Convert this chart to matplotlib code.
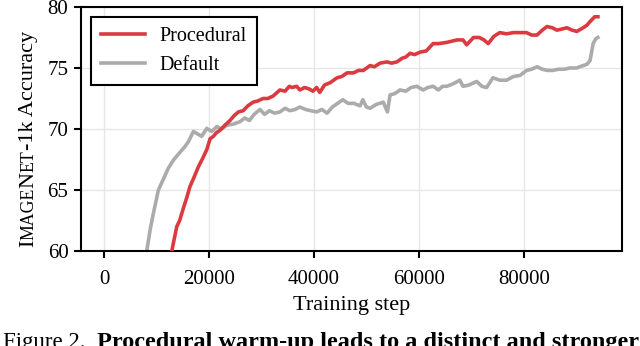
import matplotlib
matplotlib.use("Agg")
import matplotlib.pyplot as plt
from matplotlib.transforms import IdentityTransform

# Default run (grey)
default_steps = [7800, 8130, 8800, 9400, 10350, 11200, 12250, 13300, 14480, 15300,
                 16060, 17020, 17800, 18610, 19560, 20510, 21500, 22400, 23370, 24600,
                 25900, 26800, 27700, 28600, 29700, 30600, 31500, 32500, 33500, 34500,
                 35400, 36400, 37300, 38400, 39400, 40500, 41500, 42500, 43500, 44500,
                 45500, 46500, 47600, 48800, 49300, 50000, 50700, 51800, 53200, 54000,
                 54500, 55400, 56400, 57500, 58500, 59600, 60800, 61700, 62700, 63700,
                 64500, 65300, 66500, 67800, 68400, 69500, 71000, 72000, 72900, 74100,
                 75400, 76700, 78000, 79300, 80500, 81500, 82500, 83500, 84500, 85500,
                 86600, 87700, 88800, 90000, 91300, 92000, 92600, 93200, 93700, 94100]
default_acc = [58.0, 60.0, 61.8, 63.1, 65.0, 65.8, 66.8, 67.5, 68.1, 68.5,
               68.95, 69.8, 69.6, 69.4, 70.05, 69.8, 70.2, 70.0, 70.3, 70.4,
               70.6, 70.9, 70.7, 71.2, 71.6, 71.2, 71.5, 71.3, 71.4, 71.7,
               71.5, 71.6, 71.8, 71.6, 71.5, 71.4, 71.6, 71.3, 71.8, 72.1,
               72.4, 72.1, 72.1, 71.9, 72.4, 71.8, 71.7, 72.0, 72.2, 71.4,
               72.8, 72.9, 73.2, 73.1, 73.4, 73.5, 73.2, 73.4, 73.5, 73.2,
               73.5, 73.5, 73.7, 74.0, 73.5, 73.6, 73.9, 73.5, 73.4, 74.2,
               74.0, 74.0, 74.3, 74.4, 74.8, 74.9, 75.1, 74.9, 74.8, 74.8,
               74.9, 74.9, 75.0, 75.0, 75.2, 75.3, 75.6, 77.0, 77.4, 77.5]

# Procedural warm-up run (red)
proc_steps = [12500, 12900, 13850, 14400, 15100, 15700, 16380, 17100, 17970, 18800,
              19560, 20200, 20830, 21400, 22100, 23000, 24000, 24800, 25600, 26500,
              27400, 28400, 29300, 30300, 31200, 32200, 33000, 33500, 34500, 35300,
              35800, 36700, 37300, 38200, 39000, 39800, 40500, 41100, 42000, 43100,
              44400, 45300, 46300, 47500, 48500, 49400, 50700, 51500, 52600, 53900,
              54800, 55800, 56800, 57500, 58300, 59200, 60200, 61400, 62700, 63800,
              65300, 66300, 67200, 68400, 69100, 70400, 71500, 72400, 73200, 74300,
              75400, 76700, 78000, 79200, 80500, 81500, 82500, 83500, 84400, 85400,
              86300, 87300, 88200, 89200, 90100, 91300, 92000, 92600, 93500, 94100]
proc_acc = [58.0, 60.0, 62.0, 62.5, 63.5, 64.3, 65.3, 66.0, 66.9, 67.6,
            68.3, 69.2, 69.4, 69.7, 69.9, 70.3, 70.7, 71.1, 71.4, 71.5,
            71.9, 72.2, 72.3, 72.5, 72.5, 72.7, 73.0, 73.2, 73.1, 73.5,
            73.4, 73.5, 73.2, 73.4, 73.3, 73.1, 73.4, 73.0, 73.6, 73.8,
            74.2, 74.3, 74.6, 74.6, 74.8, 74.8, 75.2, 75.1, 75.4, 75.5,
            75.4, 75.5, 75.8, 75.9, 76.2, 76.1, 76.3, 76.4, 77.0, 77.0,
            77.1, 77.2, 77.3, 77.3, 76.9, 77.5, 77.5, 77.3, 77.0, 77.6,
            77.9, 77.8, 77.9, 77.9, 77.9, 77.7, 77.7, 78.1, 78.4, 78.3,
            78.1, 78.2, 78.3, 78.1, 78.0, 78.3, 78.5, 78.8, 79.2, 79.2]

x_ticks = [0, 20000, 40000, 60000, 80000]
y_ticks = [60, 65, 70, 75, 80]

plt.rcParams['font.family'] = ['Liberation Serif', 'DejaVu Serif']
TICK_FS = 15
LABEL_FS = 16

fig = plt.figure(figsize=(6.4, 3.46), dpi=100)
ax = fig.add_axes([81/640, 1 - 251/346, (622 - 81)/640, (251 - 7)/346])

ax.plot(proc_steps, proc_acc, color='#db3a40', lw=2.6, label='Procedural', zorder=3)
ax.plot(default_steps, default_acc, color='#ababab', lw=2.6, label='Default', zorder=2)

ax.set_xlim(-4400, 98700)
ax.set_ylim(60, 80)
ax.set_xticks(x_ticks)
ax.set_yticks(y_ticks)
ax.grid(True, color='#e6e6e6', lw=1)
ax.set_axisbelow(True)
for s in ax.spines.values():
    s.set_linewidth(1.5)
    s.set_color('black')
ax.tick_params(labelsize=TICK_FS, length=5, width=1.5, colors='black', pad=4)
ax.tick_params(axis='x', pad=9)
ax.set_xlabel('Training step', fontsize=LABEL_FS, labelpad=5)

leg = ax.legend(loc='upper left', fontsize=14.5, fancybox=False, framealpha=1,
                edgecolor='black', handlelength=2.2, handletextpad=0.7,
                borderaxespad=0.5, borderpad=0.5, labelspacing=0.5)
leg.get_frame().set_linewidth(1.5)

# y label in small caps, built piece by piece
ylabel_parts = [("I", LABEL_FS), ("MAGE", LABEL_FS * 0.8), ("N", LABEL_FS),
                ("ET", LABEL_FS * 0.8), ("-1k Accuracy", LABEL_FS)]
renderer = fig.canvas.get_renderer()
pieces = []
total = 0
for txt, size in ylabel_parts:
    t = fig.text(0, 0, txt, fontsize=size, rotation=90, rotation_mode='anchor',
                 ha='left', va='baseline', transform=IdentityTransform())
    h = t.get_window_extent(renderer).height
    pieces.append((t, h))
    total += h
y = (346 - 139) - total / 2
for t, h in pieces:
    t.set_position((33, y))
    y += h

# caption (cut off at the bottom)
fig.text(3, -2, "Figure 2.", fontsize=16.5, ha='left', va='baseline',
         transform=IdentityTransform())
fig.text(97, -2, "Procedural warm-up leads to a distinct and stronger",
         fontsize=17.5, fontweight='bold', ha='left', va='baseline',
         transform=IdentityTransform())

fig.savefig('out.png', dpi=100)
